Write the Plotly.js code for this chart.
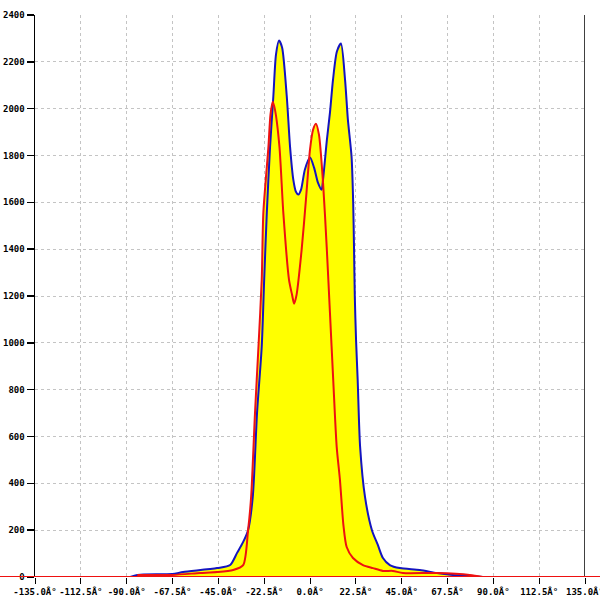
<!DOCTYPE html>
<html>
<head>
<meta charset="utf-8">
<script src="https://cdn.plot.ly/plotly-3.0.1.min.js"></script>
<style>html,body{margin:0;padding:0;background:#fff;}#chart{width:600px;height:600px;}</style>
</head>
<body>
<div id="chart"></div>
<script>
const blueX = [-88.2,-84.8,-67.6,-62.3,-45.6,-39.2,-35.8,-32.8,-30.4,-28.1,-26.0,-23.7,-22.5,-21.2,-19.6,-18.0,-16.7,-15.2,-13.7,-11.4,-9.8,-8.2,-6.9,-5.7,-4.4,-2.5,0,2.0,3.9,5.7,6.4,8.3,9.8,11.3,13.2,15.2,17.2,18.6,20.4,21.2,21.6,22.0,22.6,23.4,24.6,27.0,30.4,33.3,35.8,39.2,44.1,53.9,62.3,70.1,78.4,84.8];
const blueY = [0,9,13,21,38,51,103,150,200,342,701,983,1269,1556,1838,2052,2231,2291,2261,2052,1838,1697,1645,1633,1654,1740,1791,1748,1684,1654,1697,1868,1983,2124,2244,2278,2124,1953,1795,1598,1410,1197,1013,842,556,342,200,137,81,51,38,30,17,9,4,0];
const redX = [-84.8,-67.6,-53.9,-45.6,-37.7,-32.8,-30.4,-28.9,-27.0,-25.3,-23.7,-22.9,-20.4,-19.4,-18.3,-17.2,-15.0,-13.1,-10.3,-8.8,-7.8,-6.6,-4.1,-2.0,0,1.5,2.9,4.4,6.4,8.2,9.8,11.4,13.1,14.7,16.4,18.0,21.1,26.0,30.9,35.8,40.7,45.6,62.3,78.4,84.8];
const redY = [9,9,17,21,30,51,200,342,701,983,1269,1556,1838,1975,2030,1996,1838,1556,1269,1205,1167,1205,1398,1611,1825,1910,1936,1889,1684,1410,1128,842,556,415,222,128,81,51,38,26,26,17,17,9,0];
const xTickVals = [-135,-112.5,-90,-67.5,-45,-22.5,0,22.5,45,67.5,90,112.5,135];
const xTickText = ["-135.0Â°","-112.5Â°","-90.0Â°","-67.5Â°","-45.0Â°","-22.5Â°","0.0Â°","22.5Â°","45.0Â°","67.5Â°","90.0Â°","112.5Â°","135.0Â°"];
const yTickVals = [0,200,400,600,800,1000,1200,1400,1600,1800,2000,2200,2400];

const tickFont = {family: "DejaVu Sans Mono, monospace", size: 9, color: "#000", weight: "bold"};
const lineShape = {shape: "spline", smoothing: 0.7};

const traces = [
  {x: redX, y: redY, type: "scatter", mode: "lines", fill: "tozeroy", fillcolor: "#ffff00", line: Object.assign({width: 0, color: "rgba(0,0,0,0)"}, lineShape), hoverinfo: "skip", showlegend: false},
  {x: blueX, y: blueY, type: "scatter", mode: "lines", fill: "tozeroy", fillcolor: "#ffff00", line: Object.assign({width: 2, color: "#1414c0"}, lineShape), showlegend: false},
  {x: redX, y: redY, type: "scatter", mode: "lines", line: Object.assign({width: 2, color: "#ee1111"}, lineShape), showlegend: false}
];

const layout = {
  width: 600, height: 600,
  margin: {l: 35, r: 15, t: 15, b: 23},
  paper_bgcolor: "#fff", plot_bgcolor: "#fff",
  showlegend: false,
  xaxis: {
    range: [-135, 135], tickmode: "array", tickvals: xTickVals, ticktext: xTickText,
    showgrid: true, gridcolor: "#c4c4c4", griddash: "3px,3px", gridwidth: 1,
    zeroline: false, showline: false,
    ticks: "outside", ticklen: 6, tickcolor: "#000", tickwidth: 1,
    tickfont: tickFont, ticklabeloverflow: "allow"
  },
  yaxis: {
    range: [0, 2400], tickmode: "array", tickvals: yTickVals,
    showgrid: true, gridcolor: "#c4c4c4", griddash: "3px,3px", gridwidth: 1,
    zeroline: false, showline: true, linecolor: "#000", linewidth: 1.5,
    ticks: "outside", ticklen: 7, tickcolor: "#000", tickwidth: 1.5,
    tickfont: tickFont, ticklabeloverflow: "allow"
  },
  shapes: [
    {type: "line", xref: "x", yref: "y", x0: 135, x1: 135, y0: 0, y1: 2400, line: {color: "#000", width: 1.5}, layer: "above"},
    {type: "line", xref: "paper", yref: "y", x0: -0.1, x1: 1.1, y0: 0, y1: 0, line: {color: "#ee1111", width: 2}, layer: "above"}
  ]
};

Plotly.newPlot("chart", traces, layout, {displayModeBar: false, staticPlot: true});
</script>
</body>
</html>
